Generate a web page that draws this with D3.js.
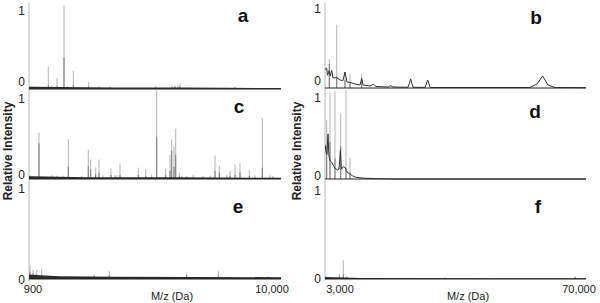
<!DOCTYPE html>
<html>
<head>
<meta charset="utf-8">
<script src="https://cdn.jsdelivr.net/npm/d3@7"></script>
<style>
  body { margin: 0; background: #fff; }
  svg { display: block; font-family: Arial, 'Liberation Sans', sans-serif; }
</style>
</head>
<body>
<div id="chart"></div>
<script>
// ---- data ----
const leftDomain = [900, 10000];
const rightDomain = [3000, 70000];
const leftTickLabels = ['900', '10,000'];
const rightTickLabels = ['3,000', '70,000'];
const xTitle = 'M/z (Da)';
const yTitle = 'Relative Intensity';
const panelNames = ['a', 'b', 'c', 'd', 'e', 'f'];
const yTickValues = [0, 1];

// stick peaks: [m/z, light replicate top, dark replicate top]
const peaksA = [
  [1008, 0.03, 0.02], [1153, 0.03, 0.02], [1333, 0.02, 0.02], [1597, 0.28, 0.05],
  [1720, 0.04, 0.02], [1911, 0.14, 0.04], [2164, 1.06, 0.40], [2298, 0.04, 0.02],
  [2500, 0.23, 0.05], [3056, 0.09, 0.03], [3428, 0.03, 0.02], [3825, 0.03, 0.02],
  [5475, 0.04, 0.02], [6064, 0.04, 0.02], [6172, 0.04, 0.03], [6280, 0.05, 0.02],
  [6353, 0.07, 0.03], [8339, 0.03, 0.02]
];
const peaksB = [
  [4104, 0.36, 0.30], [6003, 0.79, 0.15], [8134, 0.20, 0.10], [9417, 0.175, 0.06],
  [12421, 0.18, 0.10]
];
const peaksC = [
  [936, 0.05, 0.03], [1261, 0.57, 0.44], [1720, 0.05, 0.02], [1900, 0.04, 0.02],
  [2128, 0.04, 0.02], [2319, 0.49, 0.15], [2803, 0.04, 0.02], [3041, 0.36, 0.16],
  [3128, 0.24, 0.12], [3309, 0.14, 0.06], [3428, 0.24, 0.08], [3572, 0.05, 0.02],
  [3861, 0.13, 0.05], [4006, 0.05, 0.02], [4078, 0.05, 0.02], [4186, 0.19, 0.05],
  [4847, 0.14, 0.05], [5114, 0.12, 0.04], [5331, 0.05, 0.02], [5511, 1.10, 0.52],
  [5836, 0.13, 0.05], [5992, 0.30, 0.10], [6053, 0.49, 0.35], [6136, 0.40, 0.15],
  [6198, 0.62, 0.30], [6328, 0.08, 0.03], [6414, 0.04, 0.02], [6595, 0.04, 0.02],
  [6833, 0.05, 0.02], [7183, 0.04, 0.02], [7436, 0.04, 0.02], [7617, 0.29, 0.10],
  [7772, 0.16, 0.08], [8039, 0.05, 0.02], [8158, 0.10, 0.04], [8339, 0.18, 0.05],
  [8519, 0.20, 0.08], [8855, 0.11, 0.04], [9061, 0.05, 0.02], [9325, 0.75, 0.14],
  [9603, 0.05, 0.02], [9711, 0.04, 0.02]
];
const peaksD = [
  [3436, 0.72, 0.40], [4283, 1.05, 0.45], [5567, 1.07, 0.25], [7030, 0.80, 0.40],
  [8390, 1.10, 0.11], [9417, 0.26, 0.08]
];
const peaksE = [
  [936, 0.15, 0.08], [1044, 0.10, 0.06], [1178, 0.10, 0.05], [1359, 0.11, 0.05],
  [3258, 0.05, 0.03], [3800, 0.09, 0.04], [6595, 0.07, 0.04], [7736, 0.09, 0.04],
  [9541, 0.03, 0.02]
];
const peaksF = [
  [3436, 0.03, 0.02], [6671, 0.06, 0.03], [7698, 0.21, 0.05], [8570, 0.03, 0.02],
  [33800, 0.02, 0.01], [67200, 0.03, 0.02]
];

// continuous traces: [m/z, intensity]
const profileB = [
  [3000, 0.23], [3436, 0.25], [3642, 0.16], [4104, 0.22], [4361, 0.15], [4720, 0.22],
  [5054, 0.125], [6003, 0.13], [6850, 0.10], [7621, 0.094], [8134, 0.20], [8647, 0.075],
  [9417, 0.07], [10701, 0.05], [11984, 0.0375], [12421, 0.12], [12755, 0.0375],
  [14552, 0.025], [15400, 0.046], [16092, 0.019], [19172, 0.0125], [19865, 0.029],
  [20456, 0.0125], [24300, 0.009], [24999, 0.1125], [25600, 0.009], [28700, 0.008],
  [29363, 0.10], [30000, 0.006], [55623, 0.006], [57420, 0.05], [58883, 0.15],
  [60244, 0.0375], [62040, 0.006], [70000, 0.004]
];
const profileD = [
  [3000, 0.42], [3257, 0.33], [3500, 0.30], [3770, 0.55], [4000, 0.28], [4360, 0.22],
  [4800, 0.20], [5300, 0.15], [5600, 0.13], [5900, 0.12], [6150, 0.11], [6600, 0.12],
  [6950, 0.35], [7200, 0.12], [7700, 0.15], [8200, 0.14], [8500, 0.10], [9000, 0.07],
  [9500, 0.06], [10000, 0.04], [11000, 0.02], [13000, 0.01], [16000, 0.004],
  [20000, 0], [70000, 0]
];

// baseline noise band: [m/z, level]
const noiseA = [[900, 0.03], [2000, 0.025], [4000, 0.02], [6500, 0.02], [8000, 0.015], [10000, 0.012]];
const noiseC = [[900, 0.035], [1500, 0.03], [3000, 0.022], [6000, 0.022], [10000, 0.015]];
const noiseE = [[900, 0.05], [1300, 0.04], [2000, 0.03], [4000, 0.025], [7000, 0.022], [10000, 0.02]];
const noiseF = [[3000, 0.022], [8000, 0.018], [12000, 0.01], [70000, 0.008]];

// ---- layout ----
const W = 600, H = 303;
const cols = [
  { x0: 29, x1: 281, domain: leftDomain, ticks: leftTickLabels, tickX: [33, 272], titleX: 172, yTitleX: 8 },
  { x0: 325, x1: 586, domain: rightDomain, ticks: rightTickLabels, tickX: [340, 579], titleX: 468, yTitleX: 297 }
];
const layout = {
  a: { col: 0, zero: 89, one: 10, top: 3, zeroLabel: 86, letter: [243, 22] },
  b: { col: 1, zero: 88, one: 8, top: 3, zeroLabel: 85, letter: [536, 24] },
  c: { col: 0, zero: 179, one: 98, top: 90, zeroLabel: 179, letter: [239, 113] },
  d: { col: 1, zero: 179, one: 97, top: 90, zeroLabel: 180, letter: [535, 118] },
  e: { col: 0, zero: 279, one: 188, top: 181, zeroLabel: 284, letter: [238, 213] },
  f: { col: 1, zero: 279, one: 190, top: 181, zeroLabel: 283, letter: [538, 213] }
};
const panelData = {
  a: { peaks: peaksA, noise: noiseA },
  b: { peaks: peaksB, profile: profileB },
  c: { peaks: peaksC, noise: noiseC },
  d: { peaks: peaksD, profile: profileD },
  e: { peaks: peaksE, noise: noiseE },
  f: { peaks: peaksF, noise: noiseF }
};

const svg = d3.select('#chart').append('svg')
  .attr('width', W)
  .attr('height', H);

// continuous gray y axis lines
cols.forEach(c => {
  svg.append('line')
    .attr('x1', c.x0).attr('x2', c.x0)
    .attr('y1', 3).attr('y2', 281)
    .attr('stroke', '#cfcfcf')
    .attr('stroke-width', 1.5);
});

panelNames.forEach(name => {
  const L = layout[name];
  const D = panelData[name];
  const c = cols[L.col];
  const x = d3.scaleLinear().domain(c.domain).range([c.x0, c.x1]);
  const y = d3.scaleLinear().domain([0, 1]).range([L.zero, L.one]);

  svg.append('clipPath').attr('id', 'clip-' + name)
    .append('rect')
    .attr('x', c.x0).attr('y', L.top)
    .attr('width', c.x1 - c.x0 + 1).attr('height', L.zero - L.top + 2);

  const g = svg.append('g').attr('clip-path', `url(#clip-${name})`);

  // light replicate
  g.selectAll('.light')
    .data(D.peaks)
    .join('line')
    .attr('class', 'light')
    .attr('x1', d => x(d[0])).attr('x2', d => x(d[0]))
    .attr('y1', y(0)).attr('y2', d => y(d[1]))
    .attr('stroke', '#b4b4b4')
    .attr('stroke-width', 1);

  // dark replicate
  g.selectAll('.dark')
    .data(D.peaks)
    .join('line')
    .attr('class', 'dark')
    .attr('x1', d => x(d[0])).attr('x2', d => x(d[0]))
    .attr('y1', y(0)).attr('y2', d => y(d[2]))
    .attr('stroke', '#7a7a7a')
    .attr('stroke-width', 1);

  if (D.noise) {
    g.append('path')
      .datum(D.noise)
      .attr('d', d3.area().x(d => x(d[0])).y0(y(0)).y1(d => y(d[1])))
      .attr('fill', '#2a2a2a');
  }

  if (D.profile) {
    g.append('path')
      .datum(D.profile)
      .attr('d', d3.line().x(d => x(d[0])).y(d => y(d[1])))
      .attr('fill', 'none')
      .attr('stroke', '#333')
      .attr('stroke-width', 1);
  }

  // baseline
  g.append('line')
    .attr('x1', c.x0).attr('x2', c.x1)
    .attr('y1', y(0)).attr('y2', y(0))
    .attr('stroke', '#222')
    .attr('stroke-width', 1.2);

  // y tick labels 0 / 1
  svg.selectAll('.ytick-' + name)
    .data(yTickValues)
    .join('text')
    .attr('class', 'ytick-' + name)
    .attr('x', c.x0 - 4)
    .attr('y', d => d === 0 ? L.zeroLabel : y(d) + 5)
    .attr('text-anchor', 'end')
    .attr('font-size', 12)
    .attr('fill', '#222')
    .text(d => d);

  // panel letter
  svg.append('text')
    .attr('x', L.letter[0]).attr('y', L.letter[1])
    .attr('text-anchor', 'middle')
    .attr('font-size', 19)
    .attr('font-weight', 'bold')
    .attr('fill', '#111')
    .text(name);
});

// x axis labels and titles
cols.forEach(c => {
  c.ticks.forEach((t, i) => {
    svg.append('text')
      .attr('x', c.tickX[i]).attr('y', 293)
      .attr('text-anchor', 'middle')
      .attr('font-size', 11)
      .attr('fill', '#222')
      .text(t);
  });
  svg.append('text')
    .attr('x', c.titleX).attr('y', 300)
    .attr('text-anchor', 'middle')
    .attr('font-size', 11)
    .attr('fill', '#222')
    .text(xTitle);
  svg.append('text')
    .attr('transform', `translate(${c.yTitleX},151) rotate(-90)`)
    .attr('text-anchor', 'middle')
    .attr('dominant-baseline', 'central')
    .attr('font-size', 12)
    .attr('font-weight', 'bold')
    .attr('fill', '#222')
    .text(yTitle);
});
</script>
</body>
</html>
